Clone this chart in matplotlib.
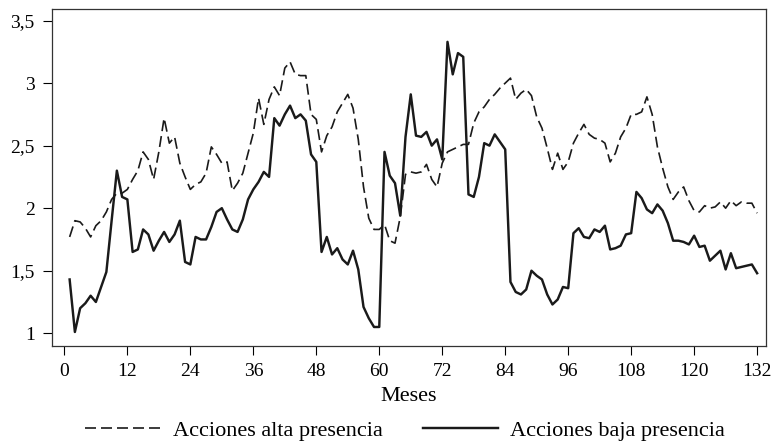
import numpy as np
import matplotlib
matplotlib.use('Agg')
import matplotlib.pyplot as plt

plt.rcParams['font.family'] = ['Liberation Serif', 'DejaVu Serif']

# meses 1..132
meses = np.arange(1, 133)

alta = [1.77, 1.90, 1.89, 1.84, 1.77, 1.86, 1.90, 1.97, 2.07, 2.12,
        2.12, 2.15, 2.23, 2.30, 2.45, 2.39, 2.23, 2.45, 2.72, 2.52,
        2.57, 2.36, 2.25, 2.15, 2.19, 2.21, 2.28, 2.49, 2.43, 2.36,
        2.37, 2.14, 2.20, 2.28, 2.44, 2.60, 2.88, 2.67, 2.87, 2.97,
        2.90, 3.12, 3.17, 3.07, 3.06, 3.06, 2.75, 2.71, 2.45, 2.58,
        2.65, 2.77, 2.84, 2.91, 2.80, 2.55, 2.17, 1.92, 1.83, 1.83,
        1.87, 1.74, 1.72, 1.93, 2.27, 2.29, 2.28, 2.29, 2.35, 2.23,
        2.17, 2.36, 2.45, 2.47, 2.49, 2.51, 2.51, 2.68, 2.77, 2.81,
        2.87, 2.91, 2.96, 3.00, 3.04, 2.87, 2.92, 2.95, 2.90, 2.73,
        2.64, 2.48, 2.31, 2.44, 2.31, 2.37, 2.52, 2.60, 2.67, 2.59,
        2.56, 2.55, 2.52, 2.37, 2.44, 2.57, 2.64, 2.75, 2.75, 2.77,
        2.89, 2.75, 2.49, 2.32, 2.17, 2.07, 2.13, 2.17, 2.06, 1.98,
        1.97, 2.02, 2.00, 2.01, 2.05, 2.00, 2.06, 2.02, 2.05, 2.04,
        2.04, 1.96]

baja = [1.43, 1.01, 1.20, 1.24, 1.30, 1.25, 1.37, 1.49, 1.90, 2.30,
        2.09, 2.07, 1.65, 1.67, 1.83, 1.79, 1.66, 1.74, 1.81, 1.73,
        1.79, 1.90, 1.57, 1.55, 1.77, 1.75, 1.75, 1.85, 1.97, 2.00,
        1.91, 1.83, 1.81, 1.91, 2.07, 2.15, 2.21, 2.29, 2.25, 2.72,
        2.66, 2.75, 2.82, 2.72, 2.75, 2.70, 2.43, 2.37, 1.65, 1.77,
        1.63, 1.68, 1.59, 1.55, 1.66, 1.51, 1.21, 1.12, 1.05, 1.05,
        2.45, 2.26, 2.20, 1.94, 2.57, 2.91, 2.58, 2.57, 2.61, 2.50,
        2.55, 2.39, 3.33, 3.07, 3.24, 3.21, 2.11, 2.09, 2.25, 2.52,
        2.50, 2.59, 2.53, 2.47, 1.41, 1.33, 1.31, 1.35, 1.50, 1.46,
        1.43, 1.31, 1.23, 1.27, 1.37, 1.36, 1.80, 1.84, 1.77, 1.76,
        1.83, 1.81, 1.86, 1.67, 1.68, 1.70, 1.79, 1.80, 2.13, 2.08,
        1.99, 1.96, 2.03, 1.98, 1.88, 1.74, 1.74, 1.73, 1.71, 1.78,
        1.69, 1.70, 1.58, 1.62, 1.66, 1.51, 1.64, 1.52, 1.53, 1.54,
        1.55, 1.48]

xticks = np.arange(0, 133, 12)
yticks = [1, 1.5, 2, 2.5, 3, 3.5]
ylabels = ['1', '1,5', '2', '2,5', '3', '3,5']

fig = plt.figure(figsize=(7.73, 4.41), dpi=100)
ax = fig.add_axes([0.067, 0.216, 0.924, 0.764])

ax.plot(meses, alta, color='#1a1a1a', lw=1.2, dashes=[6.6, 3.0],
        label='Acciones alta presencia')
ax.plot(meses, baja, color='#1a1a1a', lw=1.75,
        label='Acciones baja presencia')

ax.set_xlim(-2.4, 133.7)
ax.set_ylim(0.90, 3.594)
ax.set_xticks(xticks)
ax.set_yticks(yticks)
ax.set_yticklabels(ylabels)
ax.tick_params(direction='out', length=6.3, width=0.8, labelsize=14, pad=6)
for s in ax.spines.values():
    s.set_linewidth(0.9)
    s.set_color('#333333')

ax.set_xlabel('Meses', fontsize=16, labelpad=5)

fig.legend(loc='center', bbox_to_anchor=(0.524, 0.024), ncol=2, frameon=False,
           fontsize=16, handlelength=3.4, handletextpad=0.55, columnspacing=1.8)

fig.savefig('out.png', dpi=100)
